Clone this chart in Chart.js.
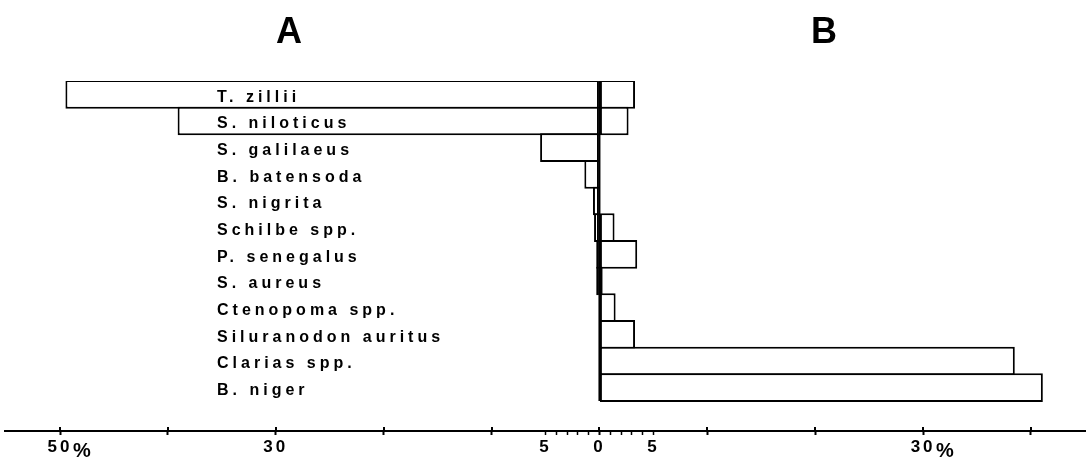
<!DOCTYPE html>
<html>
<head>
<meta charset="utf-8">
<script src="https://cdn.jsdelivr.net/npm/chart.js@4.4.1/dist/chart.umd.min.js"></script>
<style>
  html, body { margin: 0; padding: 0; background: #fff; }
  #wrap { width: 1086px; height: 458px; }
</style>
</head>
<body>
<div id="wrap"><canvas id="chart" width="1086" height="458"></canvas></div>
<script>
// Species, top to bottom
const species = [
  'T. zillii', 'S. niloticus', 'S. galilaeus', 'B. batensoda', 'S. nigrita',
  'Schilbe spp.', 'P. senegalus', 'S. aureus', 'Ctenopoma spp.',
  'Siluranodon auritus', 'Clarias spp.', 'B. niger'
];
// Panel A (drawn to the left of zero), percent
const shareA = [49.5, 39.1, 5.5, 1.4, 0.6, 0.5, 0.3, 0.3, 0, 0, 0, 0];
// Panel B (drawn to the right of zero), percent
const shareB = [3.3, 2.7, 0, 0, 0, 1.4, 3.5, 0.3, 1.5, 3.3, 38.5, 41.1];

const panelTitles = ['A', 'B'];
const majorTicks = [-50, -40, -30, -20, -10, 0, 10, 20, 30, 40];
const minorTicks = [-5, -4, -3, -2, -1, 1, 2, 3, 4, 5];
const tickLabels = { '-50': '50', '-30': '30', '-5': '5', '0': '0', '5': '5', '30': '30' };
const percentTicks = [-50, 30];

const FONT = '"Liberation Sans", Arial, sans-serif';

const barStyle = {
  backgroundColor: '#ffffff',
  borderColor: '#000000',
  borderWidth: 2,
  borderSkipped: false,
  inflateAmount: 0,
  grouped: false,
  categoryPercentage: 1,
  barPercentage: 1.075
};

// Zero line, species names, panel letters, upper halves of major ticks, % signs
const decorations = {
  id: 'decorations',
  beforeDraw(chart) {
    chart.ctx.letterSpacing = '3px';
  },
  afterDatasetsDraw(chart) {
    const { ctx, chartArea } = chart;
    const x = chart.scales.x, y = chart.scales.y;
    ctx.save();
    // shared zero line between the two panels
    const x0 = x.getPixelForValue(0);
    ctx.strokeStyle = '#000';
    ctx.lineWidth = 2;
    ctx.beginPath();
    ctx.moveTo(x0, y.getPixelForValue(-0.5));
    ctx.lineTo(x0, y.getPixelForValue(species.length - 0.5));
    ctx.stroke();
    // species names
    ctx.fillStyle = '#000';
    ctx.letterSpacing = '4px';
    ctx.font = 'bold 16px ' + FONT;
    ctx.textAlign = 'left';
    ctx.textBaseline = 'middle';
    species.forEach((name, i) => {
      ctx.fillText(name, chartArea.left + 212, y.getPixelForValue(i) + 3);
    });
    ctx.restore();
  },
  afterDraw(chart) {
    const { ctx } = chart;
    const x = chart.scales.x;
    const axisY = x.top;
    ctx.save();
    ctx.strokeStyle = '#000';
    ctx.lineWidth = 2;
    majorTicks.forEach(v => {
      const px = Math.round(x.getPixelForValue(v));
      ctx.beginPath();
      ctx.moveTo(px, axisY - 4);
      ctx.lineTo(px, axisY);
      ctx.stroke();
    });
    ctx.fillStyle = '#000';
    ctx.letterSpacing = '0px';
    ctx.font = 'bold 20px ' + FONT;
    ctx.textAlign = 'left';
    ctx.textBaseline = 'top';
    percentTicks.forEach(v => {
      ctx.fillText('%', x.getPixelForValue(v) + 13, axisY + 10);
    });
    ctx.font = 'bold 36px ' + FONT;
    ctx.textAlign = 'center';
    ctx.textBaseline = 'middle';
    ctx.fillText(panelTitles[0], 289, 33);
    ctx.fillText(panelTitles[1], 824, 33);
    ctx.restore();
  }
};

new Chart(document.getElementById('chart'), {
  type: 'bar',
  data: {
    datasets: [
      Object.assign({ label: panelTitles[0], data: species.map((s, i) => ({ x: -shareA[i], y: i })) }, barStyle),
      Object.assign({ label: panelTitles[1], data: species.map((s, i) => ({ x: shareB[i], y: i })) }, barStyle)
    ]
  },
  options: {
    indexAxis: 'y',
    responsive: false,
    animation: false,
    devicePixelRatio: 1,
    layout: { padding: { left: 5, right: 0, top: 81, bottom: 0 } },
    plugins: { legend: { display: false }, tooltip: { enabled: false } },
    scales: {
      y: {
        type: 'linear',
        reverse: true,
        offset: false,
        min: -0.5,
        max: 12.625,
        display: false,
        afterBuildTicks(scale) {
          scale.ticks = species.map((s, i) => ({ value: i }));
        }
      },
      x: {
        type: 'linear',
        position: 'bottom',
        offset: false,
        min: -55.1,
        max: 45.1,
        afterBuildTicks(scale) {
          scale.ticks = majorTicks.concat(minorTicks).sort((a, b) => a - b).map(v => ({ value: v }));
        },
        afterFit(scale) { scale.height = 27; },
        border: { display: true, color: '#000', width: 2 },
        grid: {
          drawOnChartArea: false,
          drawTicks: true,
          tickLength: 4,
          tickColor: '#000',
          tickWidth: ctx => (majorTicks.includes(ctx.tick.value) ? 2 : 1.5)
        },
        ticks: {
          autoSkip: false,
          maxRotation: 0,
          padding: 2,
          color: '#000',
          font: { family: FONT, size: 17, weight: 'bold' },
          callback: v => (tickLabels[String(v)] !== undefined ? tickLabels[String(v)] : '')
        }
      }
    }
  },
  plugins: [decorations]
});
</script>
</body>
</html>
